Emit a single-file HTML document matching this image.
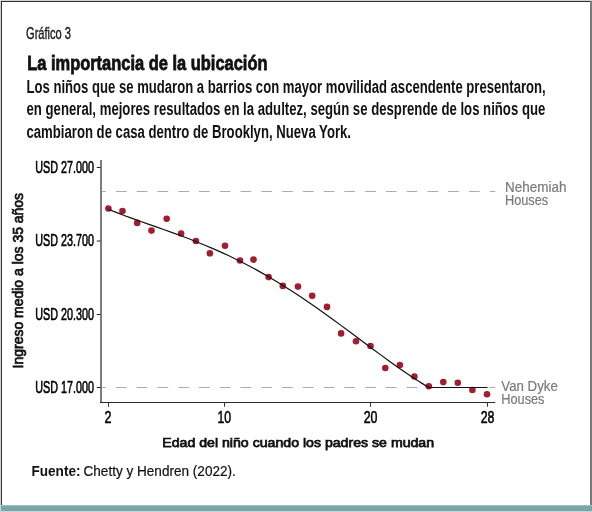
<!DOCTYPE html>
<html><head><meta charset="utf-8"><style>
html,body{margin:0;padding:0;background:#fff;width:592px;height:512px;overflow:hidden}
svg{display:block;font-family:"Liberation Sans",sans-serif;will-change:transform}
</style></head><body>
<svg width="592" height="512" viewBox="0 0 592 512">
<rect x="0" y="0" width="592" height="512" fill="#d2d2d2"/>
<rect x="1" y="1" width="590" height="510" fill="#ffffff"/>
<rect x="1" y="1" width="590" height="1" fill="#303030"/>
<rect x="1" y="1" width="1" height="504" fill="#303030"/>
<rect x="590" y="1" width="2" height="504" fill="#7a7a7a"/>
<rect x="1" y="505" width="591" height="1" fill="#a3bec1"/>
<rect x="1" y="506" width="591" height="5" fill="#7aa6aa"/>
<rect x="1" y="511" width="591" height="1" fill="#c4d5d8"/>
<text x="26" y="38.8" font-size="16.2" font-weight="normal" fill="#1a1a1a" text-anchor="start" textLength="45" lengthAdjust="spacingAndGlyphs" stroke="#1a1a1a" stroke-width="0.4">Gráfico 3</text>
<text x="27.2" y="69.8" font-size="20.7" font-weight="bold" fill="#111" text-anchor="start" textLength="240.3" lengthAdjust="spacingAndGlyphs" stroke="#111" stroke-width="0.8">La importancia de la ubicación</text>
<text x="26.5" y="92.6" font-size="17.6" font-weight="bold" fill="#111" text-anchor="start" textLength="519.2" lengthAdjust="spacingAndGlyphs">Los niños que se mudaron a barrios con mayor movilidad ascendente presentaron,</text>
<text x="26.5" y="115.4" font-size="17.6" font-weight="bold" fill="#111" text-anchor="start" textLength="518.8" lengthAdjust="spacingAndGlyphs">en general, mejores resultados en la adultez, según se desprende de los niños que</text>
<text x="26.5" y="137.9" font-size="17.6" font-weight="bold" fill="#111" text-anchor="start" textLength="324.5" lengthAdjust="spacingAndGlyphs">cambiaron de casa dentro de Brooklyn, Nueva York.</text>
<line x1="101" y1="191.5" x2="495.3" y2="191.5" stroke="#acacac" stroke-width="1" stroke-dasharray="10.7 10.06" stroke-dashoffset="5.76"/>
<line x1="101" y1="387.5" x2="495.3" y2="387.5" stroke="#acacac" stroke-width="1" stroke-dasharray="10.7 10.06" stroke-dashoffset="5.76"/>
<line x1="101" y1="160" x2="101" y2="403" stroke="#7d7d7d" stroke-width="2"/>
<line x1="100" y1="402.5" x2="495.2" y2="402.5" stroke="#2a2a2a" stroke-width="1"/>
<line x1="96.8" y1="167.5" x2="100.5" y2="167.5" stroke="#222" stroke-width="1"/>
<line x1="96.8" y1="241" x2="100.5" y2="241" stroke="#222" stroke-width="1"/>
<line x1="96.8" y1="314.5" x2="100.5" y2="314.5" stroke="#222" stroke-width="1"/>
<line x1="96.8" y1="387.5" x2="100.5" y2="387.5" stroke="#222" stroke-width="1"/>
<line x1="108.5" y1="403" x2="108.5" y2="406.8" stroke="#333" stroke-width="1"/>
<line x1="224.5" y1="403" x2="224.5" y2="406.8" stroke="#333" stroke-width="1"/>
<line x1="370.5" y1="403" x2="370.5" y2="406.8" stroke="#333" stroke-width="1"/>
<line x1="487.5" y1="403" x2="487.5" y2="406.8" stroke="#333" stroke-width="1"/>
<text x="35.3" y="172.6" font-size="16.0" font-weight="normal" fill="#000" text-anchor="start" textLength="58.6" lengthAdjust="spacingAndGlyphs" stroke="#000" stroke-width="0.6">USD 27.000</text>
<text x="35.3" y="246.1" font-size="16.0" font-weight="normal" fill="#000" text-anchor="start" textLength="58.6" lengthAdjust="spacingAndGlyphs" stroke="#000" stroke-width="0.6">USD 23.700</text>
<text x="35.3" y="319.6" font-size="16.0" font-weight="normal" fill="#000" text-anchor="start" textLength="58.6" lengthAdjust="spacingAndGlyphs" stroke="#000" stroke-width="0.6">USD 20.300</text>
<text x="35.3" y="392.6" font-size="16.0" font-weight="normal" fill="#000" text-anchor="start" textLength="58.6" lengthAdjust="spacingAndGlyphs" stroke="#000" stroke-width="0.6">USD 17.000</text>
<text x="108.1" y="422.9" font-size="17.2" font-weight="normal" fill="#000" text-anchor="middle" textLength="7.0" lengthAdjust="spacingAndGlyphs" stroke="#000" stroke-width="0.55">2</text>
<text x="224.3" y="422.9" font-size="17.2" font-weight="normal" fill="#000" text-anchor="middle" textLength="13.6" lengthAdjust="spacingAndGlyphs" stroke="#000" stroke-width="0.55">10</text>
<text x="370.6" y="422.9" font-size="17.2" font-weight="normal" fill="#000" text-anchor="middle" textLength="13.8" lengthAdjust="spacingAndGlyphs" stroke="#000" stroke-width="0.55">20</text>
<text x="487.6" y="422.9" font-size="17.2" font-weight="normal" fill="#000" text-anchor="middle" textLength="13.8" lengthAdjust="spacingAndGlyphs" stroke="#000" stroke-width="0.55">28</text>
<g transform="translate(23.3,368.4) rotate(-90)"><text x="0" y="0" font-size="14.9" font-weight="normal" fill="#111" text-anchor="start" textLength="175.5" lengthAdjust="spacingAndGlyphs" stroke="#111" stroke-width="0.75">Ingreso medio a los 35 años</text></g>
<text x="162.3" y="446.8" font-size="13.2" font-weight="normal" fill="#111" text-anchor="start" textLength="271.8" lengthAdjust="spacingAndGlyphs" stroke="#111" stroke-width="0.75">Edad del niño cuando los padres se mudan</text>
<text x="31.5" y="475.9" font-size="13.9" font-weight="bold" fill="#111" text-anchor="start" textLength="49" lengthAdjust="spacingAndGlyphs">Fuente:</text>
<text x="83.5" y="475.9" font-size="13.9" font-weight="normal" fill="#111" text-anchor="start" textLength="152.3" lengthAdjust="spacingAndGlyphs" stroke="#111" stroke-width="0.2">Chetty y Hendren (2022).</text>
<text x="505.0" y="192.0" font-size="14.4" font-weight="normal" fill="#7a7a7a" text-anchor="start" textLength="61.4" lengthAdjust="spacingAndGlyphs" stroke="#7a7a7a" stroke-width="0.2">Nehemiah</text>
<text x="505.0" y="204.6" font-size="14.4" font-weight="normal" fill="#7a7a7a" text-anchor="start" textLength="43.2" lengthAdjust="spacingAndGlyphs" stroke="#7a7a7a" stroke-width="0.2">Houses</text>
<text x="501.3" y="391.0" font-size="14.4" font-weight="normal" fill="#7a7a7a" text-anchor="start" textLength="56.5" lengthAdjust="spacingAndGlyphs" stroke="#7a7a7a" stroke-width="0.2">Van Dyke</text>
<text x="501.3" y="403.5" font-size="14.4" font-weight="normal" fill="#7a7a7a" text-anchor="start" textLength="43.2" lengthAdjust="spacingAndGlyphs" stroke="#7a7a7a" stroke-width="0.2">Houses</text>
<circle cx="108.4" cy="208.5" r="3.3" fill="#a11d30"/>
<circle cx="122.5" cy="211.0" r="3.3" fill="#a11d30"/>
<circle cx="137.2" cy="222.9" r="3.3" fill="#a11d30"/>
<circle cx="151.5" cy="230.6" r="3.3" fill="#a11d30"/>
<circle cx="166.7" cy="218.8" r="3.3" fill="#a11d30"/>
<circle cx="181.1" cy="233.5" r="3.3" fill="#a11d30"/>
<circle cx="195.9" cy="241.0" r="3.3" fill="#a11d30"/>
<circle cx="209.9" cy="253.3" r="3.3" fill="#a11d30"/>
<circle cx="225.0" cy="245.7" r="3.3" fill="#a11d30"/>
<circle cx="240.0" cy="260.5" r="3.3" fill="#a11d30"/>
<circle cx="253.5" cy="259.6" r="3.3" fill="#a11d30"/>
<circle cx="268.6" cy="277.1" r="3.3" fill="#a11d30"/>
<circle cx="282.8" cy="285.9" r="3.3" fill="#a11d30"/>
<circle cx="298.0" cy="286.6" r="3.3" fill="#a11d30"/>
<circle cx="312.2" cy="295.7" r="3.3" fill="#a11d30"/>
<circle cx="327.0" cy="306.9" r="3.3" fill="#a11d30"/>
<circle cx="341.1" cy="333.4" r="3.3" fill="#a11d30"/>
<circle cx="356.0" cy="341.2" r="3.3" fill="#a11d30"/>
<circle cx="370.5" cy="346.0" r="3.3" fill="#a11d30"/>
<circle cx="385.3" cy="368.0" r="3.3" fill="#a11d30"/>
<circle cx="399.9" cy="365.0" r="3.3" fill="#a11d30"/>
<circle cx="414.4" cy="376.5" r="3.3" fill="#a11d30"/>
<circle cx="428.8" cy="386.3" r="3.3" fill="#a11d30"/>
<circle cx="443.3" cy="382.1" r="3.3" fill="#a11d30"/>
<circle cx="457.8" cy="382.7" r="3.3" fill="#a11d30"/>
<circle cx="472.4" cy="390.0" r="3.3" fill="#a11d30"/>
<circle cx="487.0" cy="394.3" r="3.3" fill="#a11d30"/>
<polyline points="108.15,209.22 116.17,212.41 124.18,215.46 132.2,218.4 140.22,221.27 148.23,224.1 156.25,226.91 164.26,229.74 172.28,232.61 180.3,235.54 188.31,238.56 196.33,241.69 204.34,244.94 212.36,248.33 220.38,251.86 228.39,255.56 236.41,259.43 244.43,263.48 252.44,267.7 260.46,272.11 268.48,276.69 276.49,281.46 284.51,286.41 292.52,291.52 300.54,296.79 308.56,302.21 316.57,307.77 324.59,313.45 332.61,319.24 340.62,325.11 348.64,331.04 356.65,337.01 364.67,342.99 372.69,348.96 380.7,354.88 388.72,360.73 396.74,366.47 404.75,372.05 412.77,377.45 420.78,382.62 428.8,387.52 487.5,387.5" fill="none" stroke="#111" stroke-width="1.2" stroke-linejoin="round"/>
</svg>
</body></html>
